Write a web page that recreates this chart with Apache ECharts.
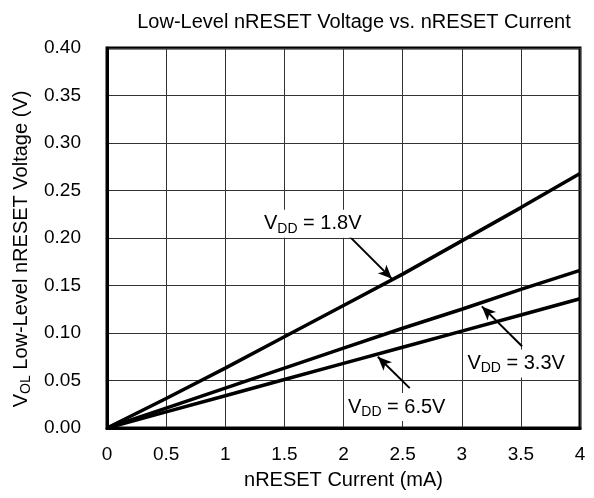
<!DOCTYPE html>
<html>
<head>
<meta charset="utf-8">
<script src="https://cdn.jsdelivr.net/npm/echarts@6/dist/echarts.min.js"></script>
<style>
  html, body { margin: 0; padding: 0; background: #fff; }
  #chart { width: 594px; height: 498px; }
</style>
</head>
<body>
<div id="chart"></div>
<script>
const current = [0, 0.5, 1, 1.5, 2, 2.5, 3, 3.5, 4]
const vdd18 = [0, 0.031, 0.063, 0.096, 0.129, 0.162, 0.197, 0.232, 0.268]
const vdd33 = [0, 0.021, 0.042, 0.063, 0.084, 0.105, 0.125, 0.146, 0.166]
const vdd65 = [0, 0.017, 0.034, 0.051, 0.068, 0.085, 0.102, 0.119, 0.136]

// annotation text, its anchor, and the arrow (tail -> head) in data units
const noteText = ['1.8V', '3.3V', '6.5V']
const noteAt = [[1.74, 0.215], [3.46, 0.068], [2.45, 0.022]]
const arrowFrom = [[2.04, 0.203], [3.51, 0.086], [2.56, 0.042]]
const arrowTo = [[2.41, 0.157], [3.17, 0.128], [2.29, 0.075]]

const font = '"Liberation Sans", Arial, sans-serif'
const ink = '#000'

const chart = echarts.init(document.getElementById('chart'), null, { renderer: 'canvas' })

function pairs(ys) {
  return current.map((x, i) => [x, ys[i]])
}

const subRich = {
  v: { fontFamily: font, fontSize: 20, color: ink, lineHeight: 24 },
  s: { fontFamily: font, fontSize: 14, color: ink, lineHeight: 24, padding: [10, 0, 0, 0] }
}

const lineSeries = [vdd18, vdd33, vdd65].map(ys => ({
  type: 'line',
  data: pairs(ys),
  symbol: 'none',
  lineStyle: { color: ink, width: 3.5 },
  z: 3
}))

// arrows + labels ride on an empty helper series
lineSeries.push({
  type: 'line',
  data: [],
  z: 5,
  markLine: {
    silent: true,
    symbol: ['none', 'arrow'],
    symbolSize: [9, 14],
    label: { show: false },
    lineStyle: { color: ink, width: 2, type: 'solid' },
    data: arrowFrom.map((p, i) => [{ coord: p }, { coord: arrowTo[i] }])
  },
  markPoint: {
    silent: true,
    symbol: 'rect',
    symbolSize: 1,
    itemStyle: { color: 'rgba(0,0,0,0)' },
    label: {
      show: true,
      position: 'inside',
      backgroundColor: '#fff',
      padding: [2, 3],
      formatter: p => '{v|V}{s|DD}{v| = ' + noteText[p.dataIndex] + '}',
      rich: subRich
    },
    data: noteAt.map(p => ({ coord: p }))
  }
})

chart.setOption({
  animation: false,
  title: {
    text: 'Low-Level nRESET Voltage vs. nRESET Current',
    left: 349, top: 7, textAlign: 'center',
    textStyle: { fontFamily: font, fontSize: 20, fontWeight: 'normal', color: ink }
  },
  grid: {
    left: 107, right: 14, top: 48, bottom: 70,
    show: true, borderColor: ink, borderWidth: 3, backgroundColor: 'transparent'
  },
  xAxis: {
    type: 'value', min: 0, max: 4, interval: 0.5,
    name: 'nRESET Current (mA)',
    nameLocation: 'middle', nameGap: 42,
    nameTextStyle: { fontFamily: font, fontSize: 20, color: ink },
    axisLine: { show: true, lineStyle: { color: ink, width: 3 } },
    axisTick: { show: false },
    axisLabel: { fontFamily: font, fontSize: 19, color: ink, margin: 17 },
    splitLine: { show: true, lineStyle: { color: '#333', width: 1 } }
  },
  yAxis: {
    type: 'value', min: 0, max: 0.4, interval: 0.05,
    name: '{v|V}{s|OL}{v| Low-Level nRESET Voltage (V)}',
    nameLocation: 'middle', nameGap: 74, nameRotate: 90,
    nameTextStyle: { padding: [0, 22, 0, 0], rich: subRich },
    axisLine: { show: true, lineStyle: { color: ink, width: 3 } },
    axisTick: { show: false },
    axisLabel: { fontFamily: font, fontSize: 19, color: ink, margin: 26, formatter: v => v.toFixed(2) },
    splitLine: { show: true, lineStyle: { color: '#333', width: 1 } }
  },
  series: lineSeries
})
</script>
</body>
</html>
